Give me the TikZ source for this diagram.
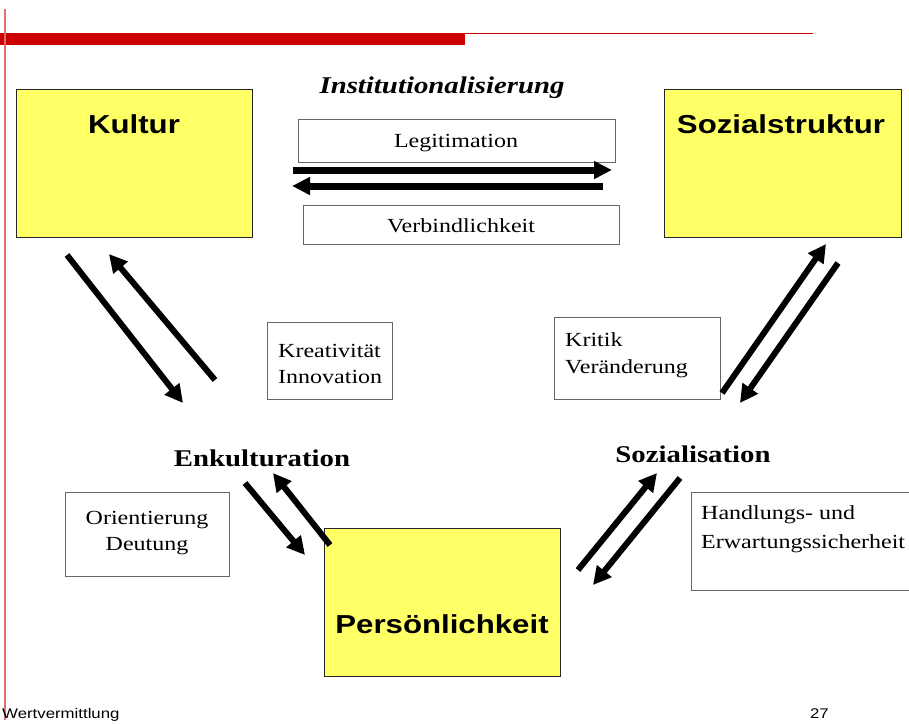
\documentclass[tikz,border=0pt]{standalone}
\usepackage{fontspec}
\setmainfont{Liberation Serif}[FakeStretch=1.2]
\newfontfamily\hsans{Liberation Sans}[FakeStretch=1.2]
\usetikzlibrary{arrows.meta}
\definecolor{boxyellow}{HTML}{FFFF66}
\definecolor{barred}{HTML}{CC0000}
\definecolor{lightred}{HTML}{E07070}
\tikzset{
  ybox/.style={draw=black!85, line width=1pt, fill=boxyellow, inner sep=0pt, outer sep=0pt, anchor=north west},
  wbox/.style={draw=black!60, line width=1pt, fill=white, inner sep=0pt, outer sep=0pt, anchor=north west},
  stitle/.style={font=\hsans\bfseries\fontsize{26}{30}\selectfont, inner sep=0pt, anchor=base},
  btitle/.style={font=\bfseries\fontsize{24}{28}\selectfont, inner sep=0pt, anchor=base},
  small/.style={font=\fontsize{20}{24}\selectfont, inner sep=0pt},
  bigarrow/.style={line width=6pt, -{Triangle[length=18pt,width=18pt]}},
  harrow/.style={line width=7pt, -{Triangle[length=18pt,width=17pt]}},
  foot/.style={font=\hsans\fontsize{14}{16}\selectfont, inner sep=0pt}
}
\begin{document}
\begin{tikzpicture}[x=1pt,y=-1pt]
\useasboundingbox (0,0) rectangle (909,723);
% header decoration
\fill[barred] (0,33) rectangle (465,45);
\draw[barred, line width=1.2pt] (465,33.6) -- (813,33.6);
\draw[lightred, line width=1.2pt] (5,9) -- (5,720);
% yellow boxes
\node[ybox, minimum width=236pt, minimum height=148pt] (kultur) at (16,89) {};
\node[ybox, minimum width=237pt, minimum height=148pt] (sozstr) at (664,89) {};
\node[ybox, minimum width=236pt, minimum height=148pt] (person) at (324,528) {};
\node[stitle] (kulturtxt) at (134,133) {Kultur};
\node[stitle] (sozstrtxt) at (781,133) {Sozialstruktur};
\node[stitle] (persontxt) at (442,633) {Persönlichkeit};
% top title
\node[font=\bfseries\itshape\fontsize{24}{28}\selectfont, inner sep=0pt, anchor=base] (inst) at (442,93) {Institutionalisierung};
% white boxes
\node[wbox, minimum width=317pt, minimum height=43pt] (legit) at (298,119) {};
\node[small, anchor=base] (legittxt) at (456,147) {Legitimation};
\node[wbox, minimum width=316pt, minimum height=39pt] (verb) at (303,205) {};
\node[small, anchor=base] (verbtxt) at (461,232) {Verbindlichkeit};
\node[wbox, minimum width=125pt, minimum height=77pt] (krea) at (267,322) {};
\node[small, anchor=base west] (kreatxt) at (278,357) {Kreativität};
\node[small, anchor=base west] (innotxt) at (278,383) {Innovation};
\node[wbox, minimum width=166pt, minimum height=82pt] (krit) at (554,317) {};
\node[small, anchor=base west] (krittxt) at (565,346) {Kritik};
\node[small, anchor=base west] (verantxt) at (565,373) {Veränderung};
\node[wbox, minimum width=164pt, minimum height=84pt] (orient) at (65,492) {};
\node[small, anchor=base] (orienttxt) at (147,524) {Orientierung};
\node[small, anchor=base] (deuttxt) at (147,550) {Deutung};
\node[wbox, minimum width=230pt, minimum height=98pt] (handl) at (691,492) {};
\node[small, anchor=base west] (handltxt) at (701,519) {Handlungs- und};
\node[small, anchor=base west] (erwtxt) at (701,548) {Erwartungssicherheit};
% process labels
\node[btitle] (enk) at (262,466) {Enkulturation};
\node[btitle] (sozial) at (693,462) {Sozialisation};
% arrow end points
\coordinate (h1s) at (293,170); \coordinate (h1e) at (612,170);
\coordinate (h2s) at (603,186); \coordinate (h2e) at (292,186);
\coordinate (a1s) at (67,255);  \coordinate (a1e) at (183,403);
\coordinate (a2s) at (215,380); \coordinate (a2e) at (109,254);
\coordinate (a3s) at (245,483); \coordinate (a3e) at (305,555);
\coordinate (a4s) at (330,545); \coordinate (a4e) at (273,473);
\coordinate (a5s) at (578,570); \coordinate (a5e) at (657,473);
\coordinate (a6s) at (680,478); \coordinate (a6e) at (593,585);
\coordinate (a7s) at (722,393); \coordinate (a7e) at (826,244);
\coordinate (a8s) at (838,263); \coordinate (a8e) at (740,403);
\draw[harrow] (h1s) -- (h1e);
\draw[harrow] (h2s) -- (h2e);
\draw[bigarrow] (a1s) -- (a1e);
\draw[bigarrow] (a2s) -- (a2e);
\draw[bigarrow] (a3s) -- (a3e);
\draw[bigarrow] (a4s) -- (a4e);
\draw[bigarrow] (a5s) -- (a5e);
\draw[bigarrow] (a6s) -- (a6e);
\draw[bigarrow] (a7s) -- (a7e);
\draw[bigarrow] (a8s) -- (a8e);
% footer
\node[foot, anchor=base west] (footl) at (2,718) {Wertvermittlung};
\node[foot, anchor=base east] (footr) at (829,718) {27};
\end{tikzpicture}
\end{document}
